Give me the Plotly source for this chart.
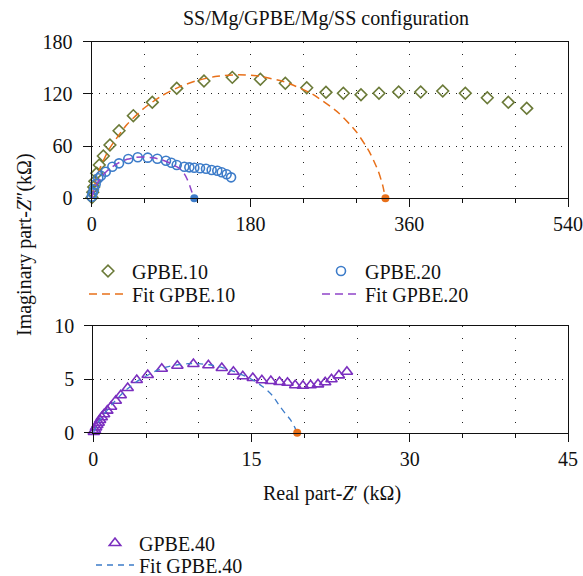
import plotly.graph_objects as go

W, H = 583, 576

# ---------------- data ----------------
gpbe10_x = [0.3, 1.2, 2.3, 3.5, 5.7, 8.6, 13.2, 20.7, 31, 47.2, 68.7, 96.4, 127.3, 159.4, 191.2,
            219.5, 243.8, 265.6, 285.3, 305.3, 325.7, 348, 373, 398, 423.6, 448.5, 472.3, 493.2]
gpbe10_y = [1, 7, 13, 19.5, 28.7, 38.3, 48.6, 61.3, 77.7, 95, 110.3, 126.4, 134.8, 139, 136.8,
            132.2, 127.1, 121.8, 120.7, 119.1, 120.7, 122.2, 122.2, 123.3, 120.7, 115.6, 110.3, 103.4]

gpbe20_x = [0, 1.1, 2.6, 4.5, 7.5, 10.5, 15.9, 23.4, 31, 41.5, 52.2, 63.5, 74.4, 84.2, 90.3, 96.4,
            105, 110.7, 116.3, 122.8, 129.6, 136, 142.4, 147.4, 153, 158]
gpbe20_y = [1.9, 5.7, 10.3, 16.4, 23, 26, 30.6, 36.3, 40.2, 45.2, 47.1, 46.7, 45.5, 43.2, 40.9, 38.3,
            36.3, 35.6, 35.2, 34.5, 34, 32.5, 31.7, 29.9, 27.6, 24.1]

fit10_x = [0, 5, 10, 20, 40, 60, 80, 100, 120, 140, 166, 190, 220, 250, 280, 300, 315, 325, 330, 333]
fit10_y = [0, 21.8, 36.1, 56.9, 84.9, 104.1, 118.1, 128.3, 135.5, 139.9, 142, 140.4, 133.3, 119.9,
           98.1, 76.4, 53.2, 30.9, 14.6, 0]

fit20_x = [0, 3, 6, 10, 15, 20, 30, 40, 50, 58, 70, 80, 90, 95, 100, 105, 108, 111, 113.5, 116.3]
fit20_y = [0, 10, 17, 23, 29, 33.7, 40.5, 44.8, 47, 47.5, 46.5, 44, 40, 37, 34, 28, 22.5, 15, 7.5, 0]

gpbe40_x = [0.05, 0.16, 0.26, 0.38, 0.51, 0.64, 0.8, 1.02, 1.33, 1.68, 2.13, 2.6, 3.26, 4.12, 5.16,
            6.49, 7.97, 9.49, 10.91, 12.18, 13.28, 14.17, 15.12, 15.98, 16.83, 17.65, 18.41, 19.14,
            19.87, 20.6, 21.3, 21.98, 22.58, 23.28, 24.04]
gpbe40_y = [0.08, 0.25, 0.5, 0.72, 0.93, 1.19, 1.44, 1.72, 2.06, 2.43, 2.99, 3.5, 4.18, 4.93, 5.39,
            5.98, 6.26, 6.42, 6.3, 6.05, 5.7, 5.27, 5.11, 4.9, 4.83, 4.74, 4.67, 4.43,
            4.39, 4.43, 4.52, 4.71, 4.99, 5.36, 5.7]

fit40_x = [0, 0.5, 1, 2, 3, 4, 5, 6, 7, 8, 9, 10, 11, 12, 13, 14, 15, 16, 16.5, 17, 17.7, 18.2,
           18.7, 19.1, 19.33]
fit40_y = [0, 1.0, 1.7, 2.9, 3.9, 4.7, 5.3, 5.8, 6.15, 6.35, 6.45, 6.45, 6.35, 6.15, 5.85, 5.45,
           5.0, 4.35, 3.95, 3.45, 2.45, 1.8, 1.2, 0.5, 0]

# fit intercepts on the real axis
end10 = [333, 0]
end20 = [116.3, 0]
end40 = [19.33, 0]

top_x_ticks = [0, 180, 360, 540]
top_y_ticks = [0, 60, 120, 180]
bot_x_ticks = [0, 15, 30, 45]
bot_y_ticks = [0, 5, 10]

title_text = "SS/Mg/GPBE/Mg/SS configuration"
ytitle = "Imaginary part-<i>Z</i>″(kΩ)"
xtitle = "Real part-<i>Z</i>′ (kΩ)"

# ---------------- colours ----------------
OLIVE = "#6b7a38"
BLUE = "#3d7cc9"
PURPLE = "#7b2fbf"
PURPLE_FIT = "#9044c9"
ORANGE = "#e8701a"
FONT = "Liberation Serif"

fig = go.Figure()

def px_x(p):
    return p / W

def px_y(p):
    return 1 - p / H

# top plot
fig.add_trace(go.Scatter(x=gpbe10_x, y=gpbe10_y, mode="markers", name="GPBE.10",
                         marker=dict(symbol="diamond-open", size=9, color=OLIVE, line=dict(width=1.6)),
                         cliponaxis=False, legend="legend"))
fig.add_trace(go.Scatter(x=fit10_x, y=fit10_y, mode="lines", name="Fit GPBE.10",
                         line=dict(color=ORANGE, width=1.5, dash="8px,5px", shape="spline", smoothing=0.6),
                         legend="legend2"))
fig.add_trace(go.Scatter(x=gpbe20_x, y=gpbe20_y, mode="markers", name="GPBE.20",
                         marker=dict(symbol="circle-open", size=9, color=BLUE, line=dict(width=1.6)),
                         cliponaxis=False, legend="legend3"))
fig.add_trace(go.Scatter(x=fit20_x, y=fit20_y, mode="lines", name="Fit GPBE.20",
                         line=dict(color=PURPLE_FIT, width=1.5, dash="8px,5px", shape="spline", smoothing=0.6),
                         legend="legend4"))
fig.add_trace(go.Scatter(x=[end10[0]], y=[end10[1]], mode="markers", showlegend=False,
                         marker=dict(size=8, color=ORANGE), cliponaxis=False))
fig.add_trace(go.Scatter(x=[end20[0]], y=[end20[1]], mode="markers", showlegend=False,
                         marker=dict(size=8, color=BLUE), cliponaxis=False))

# bottom plot
fig.add_trace(go.Scatter(x=gpbe40_x, y=gpbe40_y, mode="markers", name="GPBE.40",
                         marker=dict(symbol="triangle-up-open", size=10, color=PURPLE, line=dict(width=1.6)),
                         cliponaxis=False, xaxis="x2", yaxis="y2", legend="legend5"))
fig.add_trace(go.Scatter(x=fit40_x, y=fit40_y, mode="lines", name="Fit GPBE.40",
                         line=dict(color=BLUE, width=1.3, dash="6px,5px", shape="spline", smoothing=0.6),
                         xaxis="x2", yaxis="y2", legend="legend6"))
fig.add_trace(go.Scatter(x=[end40[0]], y=[end40[1]], mode="markers", showlegend=False,
                         marker=dict(size=8, color=ORANGE), cliponaxis=False, xaxis="x2", yaxis="y2"))

GRID = "#222222"
tickfont = dict(family=FONT, size=20, color="#111111")

def xaxis(dom, rng, ticks, minor_dt, anchor):
    return dict(domain=dom, range=rng, tickvals=ticks, ticks="outside", ticklen=8, tickwidth=1.2,
                tickcolor="#111", showline=True, linecolor="#111", linewidth=1.3, mirror=True,
                showgrid=True, gridcolor=GRID, gridwidth=1.2, griddash="1px,11px", zeroline=False,
                minor=dict(dtick=minor_dt, tick0=0, ticks="outside", ticklen=4, tickcolor="#111",
                           showgrid=True, gridcolor=GRID, griddash="1px,11px", gridwidth=1.2),
                tickfont=tickfont, anchor=anchor, fixedrange=True, ticklabelstandoff=0)

def yaxis(dom, rng, ticks, anchor):
    return dict(domain=dom, range=rng, tickvals=ticks, ticks="outside", ticklen=8, tickwidth=1.2,
                tickcolor="#111", showline=True, linecolor="#111", linewidth=1.3, mirror=True,
                showgrid=True, gridcolor=GRID, gridwidth=1.2, griddash="1px,6px", zeroline=False,
                tickfont=tickfont, anchor=anchor, fixedrange=True, ticklabelstandoff=6)

legfont = dict(family=FONT, size=20, color="#111111")

def leg(xp, yp, iw=38):
    return dict(x=px_x(xp), y=px_y(yp), xanchor="left", yanchor="middle", font=legfont,
                bgcolor="rgba(0,0,0,0)", borderwidth=0, itemwidth=iw, tracegroupgap=0)

fig.update_layout(
    width=W, height=H, margin=dict(l=0, r=0, t=0, b=0, autoexpand=False),
    paper_bgcolor="white", plot_bgcolor="white",
    font=dict(family=FONT, color="#111111"),
    xaxis=xaxis([px_x(91.7), px_x(568)], [0, 540], top_x_ticks, 60, "y"),
    yaxis=yaxis([px_y(198.3), px_y(41.7)], [0, 180], top_y_ticks, "x"),
    xaxis2=xaxis([px_x(93.3), px_x(568)], [0, 45], bot_x_ticks, 5, "y2"),
    yaxis2=yaxis([px_y(432.7), px_y(325.7)], [0, 10], bot_y_ticks, "x2"),
    title=dict(text=title_text, x=px_x(326), y=px_y(18), xanchor="center", yanchor="middle",
               font=dict(family=FONT, size=20, color="#111111")),
    legend=leg(84, 271),
    legend2=leg(84, 294),
    legend3=leg(317, 271),
    legend4=leg(317, 294),
    legend5=leg(91, 543),
    legend6=leg(91, 565),
    annotations=[
        dict(text=ytitle, textangle=-90, x=px_x(24), y=px_y(245), xref="paper", yref="paper",
             xanchor="center", yanchor="middle", showarrow=False,
             font=dict(family=FONT, size=20, color="#111111")),
        dict(text=xtitle, x=px_x(332), y=px_y(493), xref="paper", yref="paper",
             xanchor="center", yanchor="middle", showarrow=False,
             font=dict(family=FONT, size=20, color="#111111")),
    ],
)

fig.write_html("out.html", config={"displayModeBar": False},
               post_script="document.body.style.margin='0';document.body.style.overflow='hidden';")
